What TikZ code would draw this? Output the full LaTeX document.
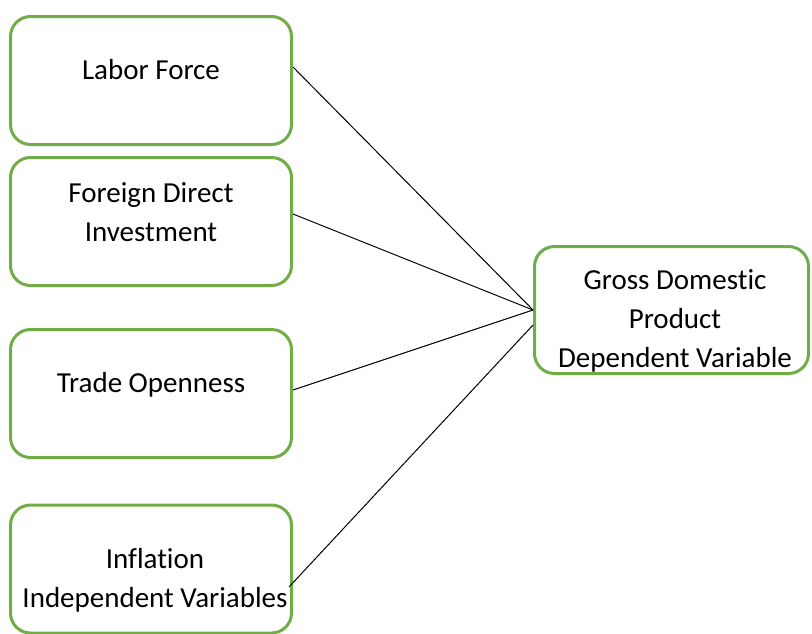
\documentclass[tikz,border=0pt]{standalone}
\usepackage{fontspec}
\setmainfont{Carlito}[RawFeature=-liga]
\usetikzlibrary{calc}
\definecolor{rahmengruen}{RGB}{112,173,71}
\begin{document}
\begin{tikzpicture}[x=0.5pt,y=-0.5pt,
	kasten/.style={draw=rahmengruen, line width=1.5pt, rounded corners=10pt, minimum width=140.5pt, minimum height=64pt, inner sep=0pt},
	beschriftung/.style={align=center, anchor=base, inner sep=0pt, font=\fontsize{14.5}{19.5}\selectfont}]
	\useasboundingbox (0,0) rectangle (812,633);
	% Kaesten
	\node [kasten] (arbeit) at (151,80.5) {};
	\node [kasten] (fdi) at (151,221.5) {};
	\node [kasten] (handel) at (151,393.5) {};
	\node [kasten] (inflation) at (151,569) {};
	\node [kasten, minimum width=137pt, minimum height=63.5pt] (bip) at (671.5,310) {};
	% Texte (Grundlinie der letzten Zeile)
	\node [beschriftung] (arbeitT) at (151,79) {Labor Force};
	\node [beschriftung] (fdiT) at (151,241) {Foreign Direct\\Investment};
	\node [beschriftung] (handelT) at (151,392) {Trade Openness};
	\node [beschriftung] (inflationT) at (155,607) {Inflation\\Independent Variables};
	\node [beschriftung] (bipT) at (675,367) {Gross Domestic\\Product\\Dependent Variable};
	% Linien
	\draw [line width=0.5pt] ($(arbeit.east)+(0,-13.5)$) -- (bip.west);
	\draw [line width=0.5pt] ($(fdi.east)+(0,-7.5)$) -- (bip.west);
	\draw [line width=0.5pt] ($(handel.east)+(0,-3.5)$) -- (bip.west);
	\draw [line width=0.5pt] ($(inflation.east)+(-4,18)$) -- ($(bip.west)+(0,15)$);
\end{tikzpicture}
\end{document}
